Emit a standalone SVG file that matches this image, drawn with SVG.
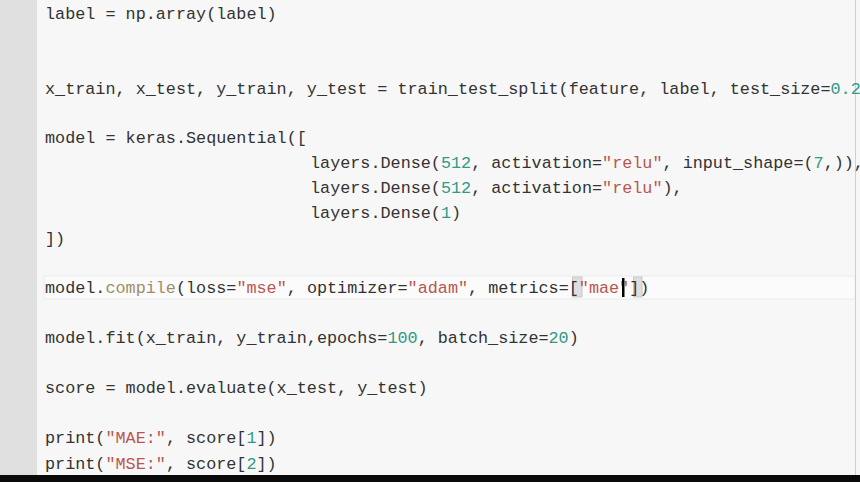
<svg xmlns="http://www.w3.org/2000/svg" width="860" height="482" viewBox="0 0 860 482">
<defs>
<style>
.code{font-family:"Liberation Mono","DejaVu Sans Mono",monospace;font-size:16.8px;fill:#333333;white-space:pre}
.s{fill:#b8574f}
.n{fill:#2f9a86}
.b{fill:#a08e66}
</style>
</defs>
<rect x="0" y="0" width="860" height="482" fill="#f7f7f7"/>
<rect x="0" y="0" width="37" height="482" fill="#e0e0e0"/>
<g id="current-line">
<rect x="44" y="276" width="811" height="23" fill="#fbfbfb" stroke="#ececec" stroke-width="1"/>
<rect x="572.5" y="277" width="9.5" height="20" fill="#dedede" stroke="#c8c8c8" stroke-width="1"/>
<rect x="633.5" y="277" width="8.5" height="20" fill="#dedede" stroke="#c8c8c8" stroke-width="1"/>
</g>
<line x1="855.5" y1="0" x2="855.5" y2="476" stroke="#cfcfcf" stroke-width="1"/>
<g id="code">
<text class="code" x="45" y="19">label = np.array(label)</text>
<text class="code" x="45" y="94">x_train, x_test, y_train, y_test = train_test_split(feature, label, test_size=<tspan class="n">0.2</tspan></text>
<text class="code" x="45" y="143">model = keras.Sequential([</text>
<text class="code" x="310" y="168">layers.Dense(<tspan class="n">512</tspan>, activation=<tspan class="s">"relu"</tspan>, input_shape=(<tspan class="n">7</tspan>,)),</text>
<text class="code" x="310" y="193">layers.Dense(<tspan class="n">512</tspan>, activation=<tspan class="s">"relu"</tspan>),</text>
<text class="code" x="310" y="218">layers.Dense(<tspan class="n">1</tspan>)</text>
<text class="code" x="45" y="244">])</text>
<text class="code" x="45" y="293">model.<tspan class="b">compile</tspan>(loss=<tspan class="s">"mse"</tspan>, optimizer=<tspan class="s">"adam"</tspan>, metrics=[<tspan class="s">"mae"</tspan>])</text>
<text class="code" x="45" y="343">model.fit(x_train, y_train,epochs=<tspan class="n">100</tspan>, batch_size=<tspan class="n">20</tspan>)</text>
<text class="code" x="45" y="393">score = model.evaluate(x_test, y_test)</text>
<text class="code" x="45" y="443">print(<tspan class="s">"MAE:"</tspan>, score[<tspan class="n">1</tspan>])</text>
<text class="code" x="45" y="469">print(<tspan class="s">"MSE:"</tspan>, score[<tspan class="n">2</tspan>])</text>
</g>
<rect id="cursor" x="622" y="278" width="2.5" height="19" fill="#000000"/>
<rect x="0" y="475" width="860" height="7" fill="#0a0a0a"/>
</svg>
